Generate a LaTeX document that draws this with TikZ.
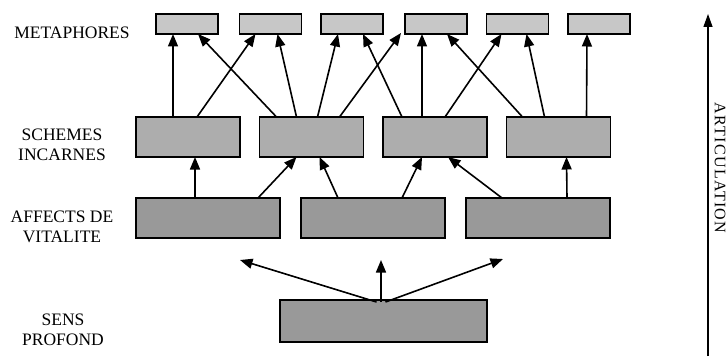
\documentclass[tikz,border=0pt]{standalone}
\usepackage{fontspec}
\setmainfont{Liberation Serif}
\usetikzlibrary{arrows.meta}
\begin{document}
\begin{tikzpicture}[x=1pt,y=-1pt,
  box/.style={draw=black,line width=1.3pt,inner sep=0pt,outer sep=0pt},
  metabox/.style={box,fill=black!22,minimum width=62pt,minimum height=20pt},
  schbox/.style={box,fill=black!32,minimum width=104pt,minimum height=40pt},
  affbox/.style={box,fill=black!40,minimum width=144pt,minimum height=40pt},
  sensbox/.style={box,fill=black!40,minimum width=207pt,minimum height=42pt},
  conn/.style={line width=1.6pt,-{Triangle[length=12.5pt,width=10pt]}},
  lbl/.style={align=center,font=\fontsize{17.5}{20}\selectfont,inner sep=0pt}]
\useasboundingbox (0,0) rectangle (727,361);
% labels
\node[lbl] (lm) at (72,33) {METAPHORES};
\node[lbl] (ls) at (62,145) {SCHEMES\\INCARNES};
\node[lbl] (la) at (62,226.5) {AFFECTS DE\\VITALITE};
\node[lbl] (lp) at (63,330) {SENS\\PROFOND};
% metaphores
\node[metabox] (M1) at (187,24) {};
\node[metabox] (M2) at (270.5,24) {};
\node[metabox] (M3) at (352,24) {};
\node[metabox] (M4) at (436,24) {};
\node[metabox] (M5) at (517.5,24) {};
\node[metabox] (M6) at (599,24) {};
% schemes
\node[schbox] (S1) at (188,137) {};
\node[schbox] (S2) at (311.5,137) {};
\node[schbox] (S3) at (435,137) {};
\node[schbox] (S4) at (558.5,137) {};
% affects
\node[affbox] (A1) at (208,218) {};
\node[affbox] (A2) at (373,218) {};
\node[affbox] (A3) at (538,218) {};
% sens
\node[sensbox] (P) at (383.5,321) {};
% schemes -> metaphores
\draw[conn] ([xshift=37pt]S1.north west) -- ([xshift=17pt]M1.south west);
\draw[conn] ([xshift=61pt]S1.north west) -- ([xshift=16pt]M2.south west);
\draw[conn] ([xshift=17pt]S2.north west) -- ([xshift=42pt]M1.south west);
\draw[conn] ([xshift=37pt]S2.north west) -- ([xshift=38pt]M2.south west);
\draw[conn] ([xshift=58pt]S2.north west) -- ([xshift=17pt]M3.south west);
\draw[conn] ([xshift=80pt]S2.north west) -- ([xshift=-4pt,yshift=1pt]M4.south west);
\draw[conn] ([xshift=19pt]S3.north west) -- ([xshift=42pt]M3.south west);
\draw[conn] ([xshift=39pt]S3.north west) -- ([xshift=17pt]M4.south west);
\draw[conn] ([xshift=62pt]S3.north west) -- ([xshift=15pt]M5.south west);
\draw[conn] ([xshift=16pt]S4.north west) -- ([xshift=42pt]M4.south west);
\draw[conn] ([xshift=38pt]S4.north west) -- ([xshift=40pt]M5.south west);
\draw[conn] ([xshift=80pt]S4.north west) -- ([xshift=19pt]M6.south west);
% affects -> schemes
\draw[conn] ([xshift=59pt]A1.north west) -- ([xshift=59pt]S1.south west);
\draw[conn] ([xshift=122pt]A1.north west) -- ([xshift=37pt]S2.south west);
\draw[conn] ([xshift=37pt]A2.north west) -- ([xshift=60pt]S2.south west);
\draw[conn] ([xshift=101pt]A2.north west) -- ([xshift=39pt]S3.south west);
\draw[conn] ([xshift=36pt]A3.north west) -- ([xshift=65pt]S3.south west);
\draw[conn] ([xshift=101pt]A3.north west) -- ([xshift=60pt]S4.south west);
% sens -> upward
\coordinate (tl) at (240,260);
\coordinate (tm) at (381,260);
\coordinate (tr) at (503,259);
\draw[conn] ([xshift=-7pt,yshift=-2pt]P.north) -- (tl);
\draw[conn] ([xshift=-2.5pt,yshift=-2pt]P.north) -- (tm);
\draw[conn] ([xshift=2pt,yshift=-2pt]P.north) -- (tr);
% articulation
\coordinate (ab) at (708,356);
\coordinate (at) at (708,14);
\draw[line width=1.3pt,-{Triangle[length=13pt,width=9pt]}] (ab) -- (at);
\node[inner sep=0pt,rotate=-90,font=\fontsize{16}{18}\selectfont\addfontfeature{LetterSpace=8}] (art) at (720,168) {ARTICULATION};
\end{tikzpicture}
\end{document}
